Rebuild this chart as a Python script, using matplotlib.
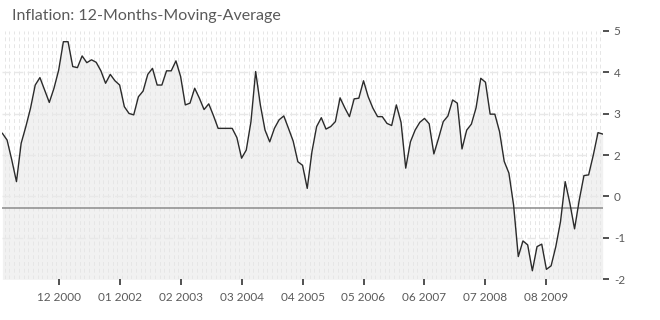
import numpy as np
import matplotlib.pyplot as plt

# monthly 12-month moving average, Dec 1999 .. Aug 2010
inflation = [
    2.11, 1.92, 1.36, 0.75, 1.83, 2.30, 2.82, 3.47, 3.68, 3.33,
    2.98, 3.38, 3.89, 4.69, 4.69, 3.99, 3.96, 4.29, 4.10, 4.18,
    4.11, 3.87, 3.52, 3.77, 3.59, 3.47, 2.86, 2.67, 2.63, 3.14,
    3.30, 3.77, 3.94, 3.47, 3.47, 3.87, 3.87, 4.15, 3.71, 2.91,
    2.96, 3.38, 3.10, 2.78, 2.94, 2.61, 2.25, 2.25, 2.25, 2.25,
    1.99, 1.41, 1.64, 2.44, 3.85, 2.91, 2.20, 1.87, 2.25, 2.49,
    2.60, 2.25, 1.89, 1.31, 1.21, 0.56, 1.59, 2.30, 2.55, 2.23,
    2.30, 2.44, 3.11, 2.83, 2.58, 3.08, 3.10, 3.59, 3.14, 2.82,
    2.58, 2.58, 2.39, 2.33, 2.91, 2.42, 1.13, 1.87, 2.20, 2.42,
    2.53, 2.38, 1.53, 1.97, 2.44, 2.60, 3.05, 2.96, 1.67, 2.20,
    2.37, 2.83, 3.66, 3.55, 2.65, 2.65, 2.16, 1.32, 0.99, 0.09,
    -1.36, -0.92, -1.03, -1.76, -1.08, -1.01, -1.72, -1.62, -1.08, -0.38,
    0.75, 0.14, -0.58, 0.23, 0.92, 0.94, 1.50, 2.13, 2.09,
]
months = np.arange(len(inflation))

x_tick_pos = [12, 25, 38, 51, 64, 77, 90, 103, 116]
x_tick_labels = ['12 2000', '01 2002', '02 2003', '03 2004', '04 2005',
                 '05 2006', '06 2007', '07 2008', '08 2009']
y_tick_labels = ['-2', '-1', '0', '2', '3', '4', '5']

plt.rcParams['font.family'] = ['Lato', 'DejaVu Sans']

fig = plt.figure(figsize=(6.6, 3.2), dpi=100)
ax = fig.add_axes([2.4 / 660, 40.7 / 320, 600.3 / 660, 248.6 / 320])
ax.set_xlim(0, len(inflation) - 1)
ax.set_ylim(-2, 5)

# area under the curve
ax.fill_between(months, inflation, -2, color='#f1f1f1', lw=0, zorder=0)

# faint dashed background pattern
ax.vlines(np.arange(0.5, len(inflation) - 1, 1.0), -2, 5,
          colors='#e6e6e6', linestyles=(0, (4, 3)), lw=0.7, zorder=1)
yt = np.linspace(-2, 5, 7)
for y in yt[1:-1]:
    ax.axhline(y, color='#e8e8e8', lw=1, ls=(0, (6, 3)), zorder=1)

ax.axhline(0, color='#8a8a8a', lw=1.1, zorder=2)
ax.plot(months, inflation, color='#2b2b2b', lw=1.0, zorder=3)

ax.yaxis.tick_right()
ax.set_yticks(yt)
ax.set_yticklabels(y_tick_labels)
ax.set_xticks(x_tick_pos)
ax.set_xticklabels(x_tick_labels)
ax.tick_params(axis='both', length=4, width=1.2, color='#333333',
               labelcolor='#5a5a5a', labelsize=8.5)
ax.tick_params(axis='y', pad=4)
ax.tick_params(axis='x', pad=5)
for s in ax.spines.values():
    s.set_visible(False)

fig.text(12 / 660, 1 - 16 / 320, 'Inflation: 12-Months-Moving-Average',
         fontsize=11.5, color='#5a5a5a', va='center', ha='left')

fig.savefig('out.png', dpi=100)
